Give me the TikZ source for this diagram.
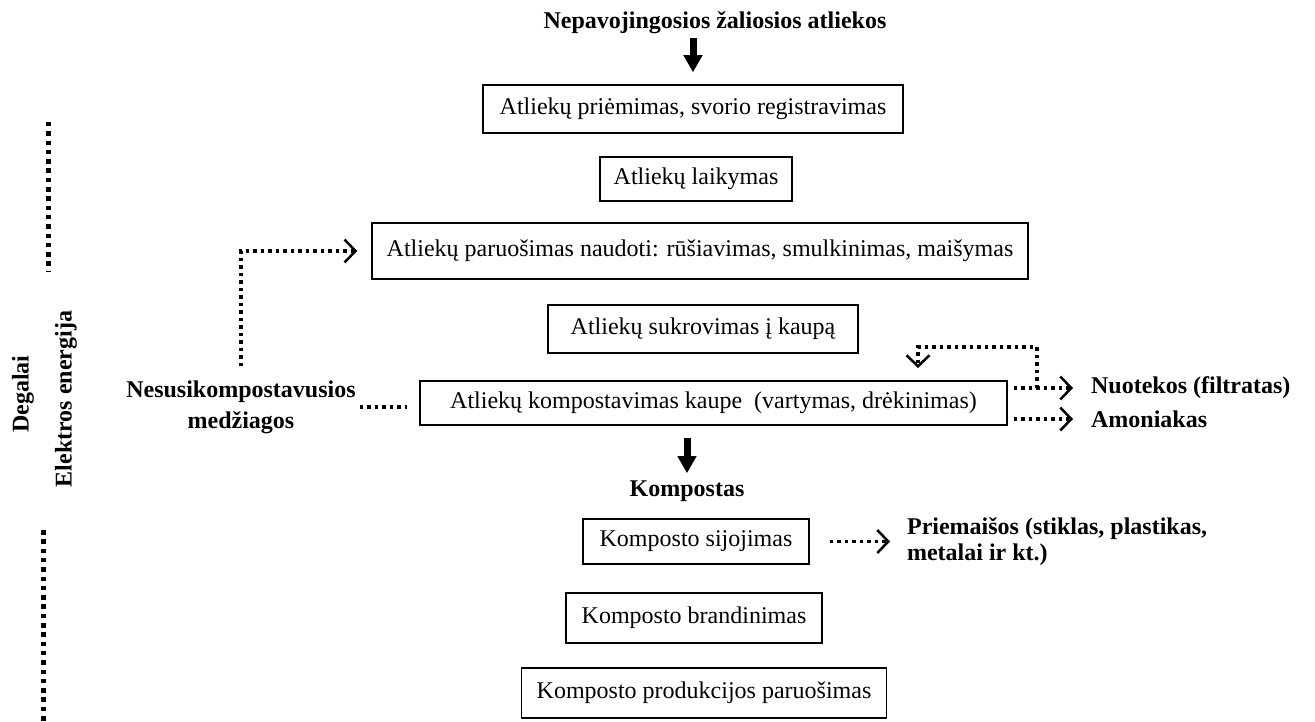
\documentclass[tikz,border=0pt]{standalone}
\usepackage{fontspec}
\setmainfont{Liberation Serif}
\usetikzlibrary{arrows.meta}

\begin{document}
\begin{tikzpicture}[x=1pt, y=-1pt, line width=1.5pt,
  box/.style={draw, line width=1.5pt, inner xsep=12pt, font=\fontsize{24}{29}\selectfont},
  boldtext/.style={font=\fontsize{24}{29}\selectfont\bfseries},
  dotline/.style={line width=3.5pt, dash pattern=on 3.5pt off 4pt},
  dotarrow/.style={dotline, -{Straight Barb[length=11pt, width=23pt, line width=2.5pt]}},
  sideline/.style={line width=5pt, dash pattern=on 4.5pt off 4.8pt},
  thickarrow/.style={line width=7pt, -{Triangle[length=17pt, width=18pt]}}]

\useasboundingbox (0,0) rectangle (1315,722);

% draw main chain of boxes
\node[boldtext, anchor=base] (title) at (715,29) {Nepavojingosios žaliosios atliekos};
\node[box, minimum width=420pt, minimum height=48pt] (recv) at (693,109) {Atliekų priėmimas, svorio registravimas};
\node[box, minimum width=192pt, minimum height=44pt] (store) at (696,179) {Atliekų laikymas};
\node[box, minimum width=656pt, minimum height=56pt] (prep) at (700,251) {Atliekų paruošimas naudoti: rūšiavimas, smulkinimas, maišymas};
\node[box, minimum width=310pt, minimum height=48pt] (pile) at (703,329) {Atliekų sukrovimas į kaupą};
\node[box, minimum width=587pt, minimum height=44pt] (compost) at (713.5,403) {Atliekų kompostavimas kaupe~~(vartymas, drėkinimas)};
\node[boldtext, anchor=base] (kompost) at (687,496) {Kompostas};
\node[box, minimum width=226pt, minimum height=45pt] (sieve) at (696,541.5) {Komposto sijojimas};
\node[box, minimum width=256pt, minimum height=50pt] (mature) at (694,618) {Komposto brandinimas};
\node[box, minimum height=50pt, inner xsep=15pt] (product) at (704,693) {Komposto produkcijos paruošimas};

% draw thick arrows
\draw[thickarrow, shorten >=12pt] (recv.north |- title.south) -- (recv.north);
\draw[thickarrow, shorten <=12pt, shorten >=3pt] (kompost |- compost.south) -- (kompost.north);

% draw side outputs
\node[boldtext, align=center] (nesus) at (241,407) {Nesusikompostavusios\\[2pt]medžiagos};
\node[boldtext, anchor=west] (leach) at (1087,388) {Nuotekos (filtratas)};
\node[boldtext, anchor=west] (ammon) at (1087,419) {Amoniakas};
\node[boldtext, anchor=west, align=left] (impur) at (903,541.5) {Priemaišos (stiklas, plastikas,\\[-3pt]metalai ir kt.)};

\draw[dotarrow, shorten <=10pt, shorten >=14pt] (nesus.north) |- (prep.west);
\draw[dotline, shorten >=12pt] (nesus.east) -- (nesus.east -| compost.west);
\draw[dotarrow, shorten >=14pt] (compost.east |- leach) ++(6,0) -- (leach.west);
\draw[dotarrow, shorten >=14pt] (compost.east |- ammon) ++(6,0) -- (ammon.west);
\draw[dotarrow, shorten >=13pt] (sieve.east) ++(20,0) -- (impur.west);

% draw return loop above the pile
\coordinate (bend) at (1037,347);
\coordinate (drop) at (918,368);
\draw[dotarrow] (bend |- leach) -- (bend) -| (drop);

% draw side labels
\node[boldtext, rotate=90] (fuel) at (23,394) {Degalai};
\node[boldtext, rotate=90] (power) at (66,399) {Elektros energija};
\draw[sideline] (48,122) -- (48,272);
\draw[sideline] (43,530) -- (43,722);

\end{tikzpicture}
\end{document}
